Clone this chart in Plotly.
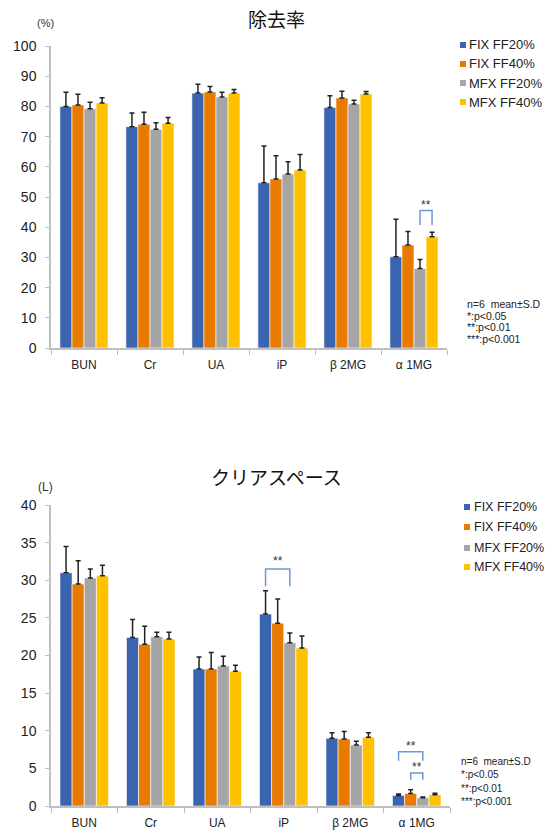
import plotly.graph_objects as go

categories = ["BUN", "Cr", "UA", "iP", "β 2MG", "α 1MG"]
series_names = ["FIX FF20%", "FIX FF40%", "MFX FF20%", "MFX FF40%"]
colors = ["#3A64AF", "#E97A00", "#A5A5A5", "#FFC000"]

# 除去率 (%)
rr_fix20 = [80.0, 73.3, 84.4, 54.7, 79.6, 30.2]
rr_fix40 = [80.5, 74.1, 84.8, 56.0, 82.8, 34.1]
rr_mfx20 = [79.2, 72.4, 83.1, 57.6, 80.8, 26.3]
rr_mfx40 = [81.1, 74.4, 84.4, 58.9, 84.1, 36.8]
rr_sd_fix20 = [4.7, 4.5, 2.9, 12.2, 3.9, 12.4]
rr_sd_fix40 = [3.5, 4.0, 1.8, 7.7, 2.2, 4.5]
rr_sd_mfx20 = [2.2, 2.2, 1.6, 4.1, 1.2, 3.0]
rr_sd_mfx40 = [1.8, 1.9, 1.2, 5.2, 0.8, 1.5]

# クリアスペース (L)
cs_fix20 = [31.0, 22.4, 18.2, 25.5, 9.0, 1.4]
cs_fix40 = [29.5, 21.5, 18.2, 24.3, 8.9, 1.65]
cs_mfx20 = [30.3, 22.5, 18.6, 21.7, 8.1, 1.1]
cs_mfx40 = [30.6, 22.2, 17.9, 21.0, 9.15, 1.5]
cs_sd_fix20 = [3.5, 2.4, 1.6, 3.1, 0.75, 0.2]
cs_sd_fix40 = [3.1, 2.4, 2.2, 3.2, 1.0, 0.5]
cs_sd_mfx20 = [1.2, 0.6, 1.3, 1.3, 0.5, 0.1]
cs_sd_mfx40 = [1.4, 0.9, 0.8, 1.6, 0.6, 0.2]

rr_values = [rr_fix20, rr_fix40, rr_mfx20, rr_mfx40]
rr_sds = [rr_sd_fix20, rr_sd_fix40, rr_sd_mfx20, rr_sd_mfx40]
cs_values = [cs_fix20, cs_fix40, cs_mfx20, cs_mfx40]
cs_sds = [cs_sd_fix20, cs_sd_fix40, cs_sd_mfx20, cs_sd_mfx40]

# significance brackets: (category index, series a, series b, y_top, y_bottom, label y)
rr_sig = [(5, 2, 3, 45.5, 40.7, 47.2)]
cs_sig = [(3, 0, 2, 31.5, 29.2, 32.6), (5, 0, 2, 7.2, 6.0, 8.0), (5, 1, 2, 4.4, 3.5, 5.2)]

W, H = 552, 832
BARGAP = 0.27
FONT = "Liberation Sans, Arial, sans-serif"
CJK = "Noto Sans CJK JP, sans-serif"


def px(x):
    return x / W


def py(y):
    return 1 - y / H


fig = go.Figure()

for s in range(4):
    fig.add_trace(go.Bar(
        x=categories, y=rr_values[s], name=series_names[s], showlegend=False,
        marker=dict(color=colors[s], line=dict(color="rgba(255,255,255,0.6)", width=1)),
        error_y=dict(type="data", array=rr_sds[s], arrayminus=[0] * 6, symmetric=False,
                     color="#222222", thickness=1.5, width=2.5),
        xaxis="x", yaxis="y",
    ))
for s in range(4):
    fig.add_trace(go.Bar(
        x=categories, y=cs_values[s], name=series_names[s], showlegend=False,
        marker=dict(color=colors[s], line=dict(color="rgba(255,255,255,0.6)", width=1)),
        error_y=dict(type="data", array=cs_sds[s], arrayminus=[0] * 6, symmetric=False,
                     color="#222222", thickness=1.5, width=2.5),
        xaxis="x2", yaxis="y2",
    ))

axis_common_x = dict(
    type="category", range=[-0.5, 5.5], showline=True, linecolor="#BFBFBF", linewidth=2,
    ticks="outside", tickson="boundaries", ticklen=5, tickcolor="#BFBFBF", tickwidth=1,
    tickfont=dict(family=FONT, size=12, color="#222222"), showgrid=False, zeroline=False,
    ticklabelstandoff=5, automargin=False,
)
axis_common_y = dict(
    showline=True, linecolor="#BFBFBF", linewidth=1.5, ticks="outside", ticklen=4,
    tickcolor="#BFBFBF", tickwidth=1, tickfont=dict(family=FONT, size=14, color="#222222"),
    showgrid=False, zeroline=False, ticklabelstandoff=6, automargin=False,
)

fig.update_layout(
    width=W, height=H, margin=dict(l=0, r=0, t=0, b=0, autoexpand=False),
    paper_bgcolor="white", plot_bgcolor="white",
    barmode="group", bargap=BARGAP, bargroupgap=0,
    xaxis=dict(axis_common_x, domain=[px(51), px(447)], anchor="y"),
    yaxis=dict(axis_common_y, domain=[py(348), py(46)], range=[0, 100], dtick=10, anchor="x"),
    xaxis2=dict(axis_common_x, domain=[px(51), px(450)], anchor="y2"),
    yaxis2=dict(axis_common_y, domain=[py(806), py(505)], range=[0, 40], dtick=5, anchor="x2"),
    showlegend=False,
)

annotations = []
shapes = []


def label(text, x, y, size, family=FONT, color="#222222", xanchor="center"):
    annotations.append(dict(text=text, x=px(x), y=py(y), xref="paper", yref="paper",
                            xanchor=xanchor, yanchor="middle", showarrow=False,
                            font=dict(family=family, size=size, color=color)))


# titles and units
label("除去率", 276, 18, 19, CJK, "#111111")
label("クリアスペース", 276, 476, 19, CJK, "#111111")
label("(%)", 45, 23, 11, color="#333333")
label("(L)", 45, 487, 12, color="#333333")

# legends (drawn manually)
legend_specs = [
    (460, 468, 13, [45, 64, 83, 102]),
    (464, 473, 12.5, [507, 527, 548, 567]),
]
for sx, tx, fs, rows in legend_specs:
    for s, yy in enumerate(rows):
        shapes.append(dict(type="rect", xref="paper", yref="paper",
                           x0=px(sx), x1=px(sx + 6), y0=py(yy + 3), y1=py(yy - 3),
                           fillcolor=colors[s], line=dict(width=0)))
        label(series_names[s], tx - 1, yy, fs, xanchor="left")

# notes
note_lines = ["n=6  mean±S.D", "*:p<0.05", "**:p<0.01", "***:p<0.001"]
note_specs = [
    (465, 10.5, [304, 315.5, 327, 338.5]),
    (459, 10, [761, 774, 788, 801.5]),
]
for nx, fs, rows in note_specs:
    for t, yy in zip(note_lines, rows):
        label(t, nx, yy, fs, xanchor="left")


def bar_center(cat, s):
    gw = 1 - BARGAP
    bw = gw / 4
    return cat - gw / 2 + bw * (s + 0.5)


for sigs, xr, yr in ((rr_sig, "x", "y"), (cs_sig, "x2", "y2")):
    for cat, a, b, ytop, ybot, ylab in sigs:
        xa, xb = bar_center(cat, a), bar_center(cat, b)
        shapes.append(dict(type="path", xref=xr, yref=yr,
                           path=f"M {xa} {ybot} L {xa} {ytop} L {xb} {ytop} L {xb} {ybot}",
                           line=dict(color="#7096D8", width=1.5)))
        annotations.append(dict(text="**", x=(xa + xb) / 2, y=ylab, xref=xr, yref=yr,
                                yanchor="middle", showarrow=False,
                                font=dict(family=FONT, size=12, color="#333333")))

fig.update_layout(annotations=annotations, shapes=shapes)
fig.write_html("out.html")
